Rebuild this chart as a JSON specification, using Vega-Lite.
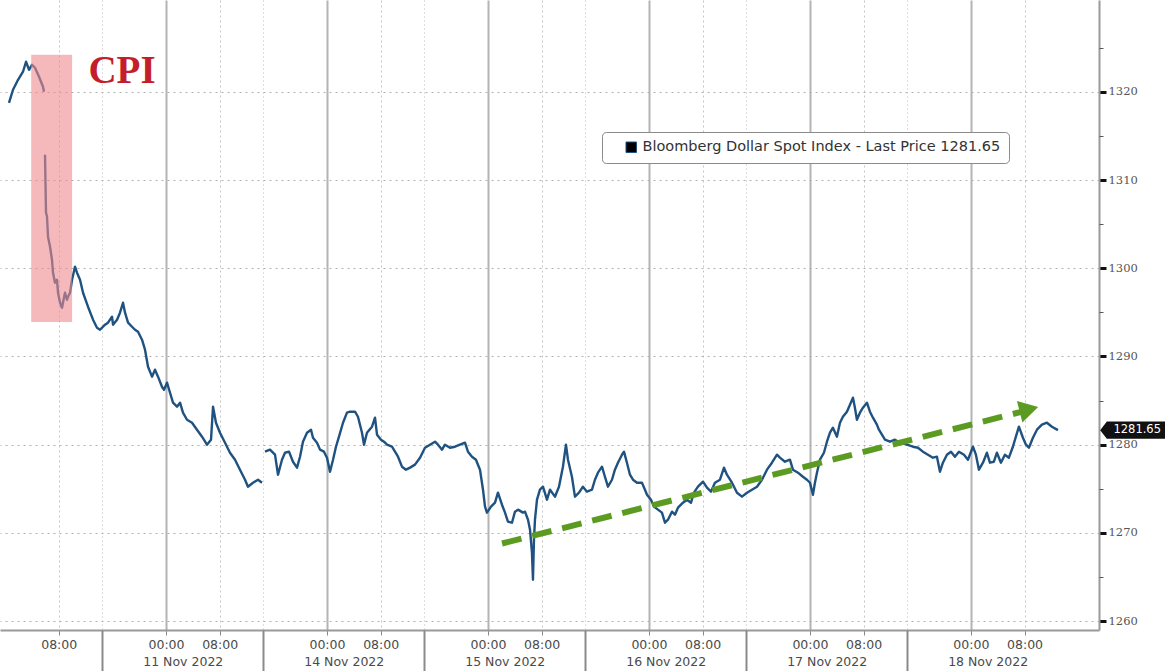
{
  "$schema": "https://vega.github.io/schema/vega-lite/v6.json",
  "width": 1099,
  "height": 630,
  "autosize": {"type": "none"},
  "padding": {"left": 0, "top": 0, "right": 66, "bottom": 41},
  "background": "white",
  "config": {"view": {"stroke": null}},
  "resolve": {"axis": {"x": "independent", "y": "independent"}},
  "datasets": {
    "price": [
      {"t":-23.41,"v":1318.75,"s":1},{"t":-22.81,"v":1320.23,"s":1},{"t":-22.06,"v":1321.36,"s":1},{"t":-21.32,"v":1322.27,"s":1},{"t":-20.87,"v":1323.40,"s":1},{"t":-20.42,"v":1322.49,"s":1},{"t":-19.98,"v":1323.06,"s":1},{"t":-19.53,"v":1322.72,"s":1},{"t":-18.93,"v":1321.70,"s":1},{"t":-18.34,"v":1320.57,"s":1},{"t":-18.19,"v":1320.00,"s":1},
      {"t":-18.04,"v":1312.86,"s":2},{"t":-17.89,"v":1306.29,"s":2},{"t":-17.74,"v":1305.84,"s":2},{"t":-17.59,"v":1303.57,"s":2},{"t":-17.29,"v":1302.44,"s":2},{"t":-17.00,"v":1300.96,"s":2},{"t":-16.85,"v":1299.49,"s":2},{"t":-16.55,"v":1298.36,"s":2},{"t":-16.25,"v":1298.70,"s":2},{"t":-16.10,"v":1297.22,"s":2},{"t":-15.80,"v":1296.09,"s":2},{"t":-15.50,"v":1295.52,"s":2},{"t":-15.36,"v":1296.09,"s":2},{"t":-15.06,"v":1297.22,"s":2},{"t":-14.76,"v":1296.43,"s":2},{"t":-14.61,"v":1296.77,"s":2},{"t":-14.31,"v":1297.22,"s":2},{"t":-14.01,"v":1298.70,"s":2},{"t":-13.57,"v":1300.17,"s":2},{"t":-13.27,"v":1299.49,"s":2},{"t":-12.82,"v":1298.70,"s":2},{"t":-12.37,"v":1297.22,"s":2},{"t":-11.63,"v":1295.64,"s":2},{"t":-10.88,"v":1294.17,"s":2},{"t":-10.29,"v":1293.26,"s":2},{"t":-9.84,"v":1293.03,"s":2},{"t":-9.09,"v":1293.60,"s":2},{"t":-8.65,"v":1293.83,"s":2},{"t":-8.05,"v":1294.50,"s":2},{"t":-7.90,"v":1293.60,"s":2},{"t":-7.30,"v":1294.17,"s":2},{"t":-6.86,"v":1294.96,"s":2},{"t":-6.41,"v":1296.09,"s":2},{"t":-6.11,"v":1294.96,"s":2},{"t":-5.66,"v":1293.83,"s":2},{"t":-5.07,"v":1293.37,"s":2},{"t":-4.62,"v":1293.03,"s":2},{"t":-4.17,"v":1292.81,"s":2},{"t":-3.58,"v":1291.90,"s":2},{"t":-3.13,"v":1290.77,"s":2},{"t":-2.68,"v":1288.84,"s":2},{"t":-2.09,"v":1287.71,"s":2},{"t":-1.64,"v":1288.50,"s":2},{"t":-1.19,"v":1287.71,"s":2},{"t":-0.60,"v":1286.57,"s":2},{"t":-0.30,"v":1286.23,"s":2},{"t":0.15,"v":1287.03,"s":2},{"t":0.60,"v":1285.89,"s":2},{"t":1.04,"v":1284.76,"s":2},{"t":1.64,"v":1284.31,"s":2},{"t":2.09,"v":1284.76,"s":2},{"t":2.53,"v":1283.63,"s":2},{"t":3.13,"v":1282.83,"s":2},{"t":3.88,"v":1282.49,"s":2},{"t":4.62,"v":1281.70,"s":2},{"t":5.37,"v":1280.91,"s":2},{"t":6.11,"v":1280.00,"s":2},{"t":6.71,"v":1280.57,"s":2},{"t":7.01,"v":1284.31,"s":2},{"t":7.45,"v":1282.49,"s":2},{"t":8.05,"v":1281.36,"s":2},{"t":8.80,"v":1280.23,"s":2},{"t":9.54,"v":1279.09,"s":2},{"t":10.29,"v":1278.30,"s":2},{"t":11.03,"v":1277.17,"s":2},{"t":11.78,"v":1276.03,"s":2},{"t":12.22,"v":1275.24,"s":2},{"t":12.97,"v":1275.69,"s":2},{"t":13.72,"v":1276.03,"s":2},{"t":14.31,"v":1275.69,"s":2},
      {"t":14.76,"v":1279.21,"s":3},{"t":15.50,"v":1279.44,"s":3},{"t":16.25,"v":1278.87,"s":3},{"t":16.70,"v":1276.60,"s":3},{"t":17.29,"v":1278.30,"s":3},{"t":17.74,"v":1279.09,"s":3},{"t":18.34,"v":1279.21,"s":3},{"t":18.93,"v":1278.07,"s":3},{"t":19.53,"v":1277.40,"s":3},{"t":19.98,"v":1278.64,"s":3},{"t":20.42,"v":1280.34,"s":3},{"t":21.02,"v":1281.36,"s":3},{"t":21.62,"v":1281.70,"s":3},{"t":21.91,"v":1280.79,"s":3},{"t":22.51,"v":1280.23,"s":3},{"t":22.96,"v":1279.44,"s":3},{"t":23.55,"v":1279.21,"s":3},{"t":24.00,"v":1278.53,"s":3},{"t":24.45,"v":1276.94,"s":3},{"t":24.90,"v":1278.30,"s":3},{"t":25.34,"v":1279.77,"s":3},{"t":25.79,"v":1280.91,"s":3},{"t":26.39,"v":1282.49,"s":3},{"t":26.98,"v":1283.63,"s":3},{"t":27.43,"v":1283.74,"s":3},{"t":28.18,"v":1283.74,"s":3},{"t":28.62,"v":1283.17,"s":3},{"t":29.22,"v":1281.36,"s":3},{"t":29.52,"v":1280.00,"s":3},{"t":29.96,"v":1281.36,"s":3},{"t":30.71,"v":1282.04,"s":3},{"t":31.16,"v":1283.06,"s":3},{"t":31.46,"v":1281.13,"s":3},{"t":32.05,"v":1280.57,"s":3},{"t":32.50,"v":1280.34,"s":3},{"t":32.95,"v":1280.00,"s":3},{"t":33.69,"v":1279.77,"s":3},{"t":34.14,"v":1279.21,"s":3},{"t":34.59,"v":1278.64,"s":3},{"t":35.18,"v":1277.51,"s":3},{"t":35.78,"v":1277.17,"s":3},{"t":36.38,"v":1277.40,"s":3},{"t":37.12,"v":1277.74,"s":3},{"t":37.87,"v":1278.53,"s":3},{"t":38.61,"v":1279.66,"s":3},{"t":39.36,"v":1280.00,"s":3},{"t":40.10,"v":1280.34,"s":3},{"t":40.55,"v":1280.00,"s":3},{"t":41.15,"v":1279.44,"s":3},{"t":41.59,"v":1280.00,"s":3},{"t":42.34,"v":1279.66,"s":3},{"t":43.08,"v":1279.77,"s":3},{"t":43.83,"v":1280.00,"s":3},{"t":44.57,"v":1280.23,"s":3},{"t":45.02,"v":1279.21,"s":3},{"t":45.62,"v":1278.64,"s":3},{"t":46.21,"v":1278.30,"s":3},{"t":46.81,"v":1277.17,"s":3},{"t":47.26,"v":1274.90,"s":3},{"t":47.56,"v":1272.98,"s":3},{"t":47.85,"v":1272.30,"s":3},{"t":48.45,"v":1272.98,"s":3},{"t":49.05,"v":1273.43,"s":3},{"t":49.49,"v":1274.56,"s":3},{"t":50.09,"v":1273.20,"s":3},{"t":50.54,"v":1272.30,"s":3},{"t":50.98,"v":1271.28,"s":3},{"t":51.58,"v":1271.16,"s":3},{"t":52.03,"v":1272.41,"s":3},{"t":52.48,"v":1272.64,"s":3},{"t":53.22,"v":1272.30,"s":3},{"t":53.52,"v":1272.41,"s":3},{"t":53.97,"v":1271.50,"s":3},{"t":54.27,"v":1270.37,"s":3},{"t":54.56,"v":1267.76,"s":3},{"t":54.71,"v":1264.70,"s":3},{"t":54.86,"v":1269.24,"s":3},{"t":55.01,"v":1271.50,"s":3},{"t":55.31,"v":1273.77,"s":3},{"t":55.75,"v":1274.90,"s":3},{"t":56.20,"v":1275.24,"s":3},{"t":56.80,"v":1273.77,"s":3},{"t":57.25,"v":1274.90,"s":3},{"t":57.99,"v":1274.11,"s":3},{"t":58.59,"v":1275.24,"s":3},{"t":59.18,"v":1277.51,"s":3},{"t":59.63,"v":1280.00,"s":3},{"t":59.93,"v":1278.30,"s":3},{"t":60.52,"v":1276.37,"s":3},{"t":60.97,"v":1274.11,"s":3},{"t":61.57,"v":1274.56,"s":3},{"t":62.16,"v":1275.24,"s":3},{"t":62.76,"v":1274.68,"s":3},{"t":63.51,"v":1274.90,"s":3},{"t":63.95,"v":1276.03,"s":3},{"t":64.40,"v":1276.83,"s":3},{"t":65.00,"v":1277.51,"s":3},{"t":65.44,"v":1276.37,"s":3},{"t":65.89,"v":1275.24,"s":3},{"t":66.49,"v":1276.03,"s":3},{"t":66.93,"v":1277.17,"s":3},{"t":67.38,"v":1277.96,"s":3},{"t":67.98,"v":1278.87,"s":3},{"t":68.28,"v":1279.21,"s":3},{"t":68.72,"v":1277.96,"s":3},{"t":69.17,"v":1276.60,"s":3},{"t":69.62,"v":1276.03,"s":3},{"t":70.22,"v":1275.69,"s":3},{"t":70.96,"v":1275.69,"s":3},{"t":71.41,"v":1274.90,"s":3},{"t":71.71,"v":1274.33,"s":3},{"t":72.30,"v":1273.77,"s":3},{"t":72.75,"v":1272.98,"s":3},{"t":73.35,"v":1272.64,"s":3},{"t":73.94,"v":1272.30,"s":3},{"t":74.39,"v":1271.16,"s":3},{"t":74.84,"v":1271.50,"s":3},{"t":75.43,"v":1272.41,"s":3},{"t":75.88,"v":1272.07,"s":3},{"t":76.33,"v":1272.86,"s":3},{"t":77.07,"v":1273.43,"s":3},{"t":77.67,"v":1273.77,"s":3},{"t":78.27,"v":1273.43,"s":3},{"t":78.71,"v":1274.56,"s":3},{"t":79.31,"v":1275.24,"s":3},{"t":80.06,"v":1275.81,"s":3},{"t":80.65,"v":1275.13,"s":3},{"t":81.25,"v":1274.68,"s":3},{"t":81.84,"v":1275.69,"s":3},{"t":82.59,"v":1276.03,"s":3},{"t":83.19,"v":1277.39,"s":3},{"t":83.63,"v":1276.60,"s":3},{"t":84.38,"v":1275.69,"s":3},{"t":85.13,"v":1274.56,"s":3},{"t":85.87,"v":1274.11,"s":3},{"t":86.62,"v":1274.56,"s":3},{"t":87.36,"v":1274.90,"s":3},{"t":88.11,"v":1275.24,"s":3},{"t":88.85,"v":1276.03,"s":3},{"t":89.60,"v":1277.17,"s":3},{"t":90.34,"v":1277.96,"s":3},{"t":91.09,"v":1278.87,"s":3},{"t":91.53,"v":1278.53,"s":3},{"t":92.28,"v":1278.07,"s":3},{"t":93.02,"v":1278.30,"s":3},{"t":93.47,"v":1277.17,"s":3},{"t":94.22,"v":1276.83,"s":3},{"t":94.96,"v":1276.37,"s":3},{"t":95.56,"v":1276.03,"s":3},{"t":96.01,"v":1275.69,"s":3},{"t":96.45,"v":1274.33,"s":3},{"t":96.75,"v":1275.69,"s":3},{"t":97.05,"v":1276.83,"s":3},{"t":97.50,"v":1278.30,"s":3},{"t":98.09,"v":1279.09,"s":3},{"t":98.54,"v":1280.34,"s":3},{"t":98.99,"v":1281.36,"s":3},{"t":99.43,"v":1281.93,"s":3},{"t":100.03,"v":1280.91,"s":3},{"t":100.48,"v":1282.49,"s":3},{"t":100.92,"v":1283.17,"s":3},{"t":101.52,"v":1283.74,"s":3},{"t":101.97,"v":1284.53,"s":3},{"t":102.42,"v":1285.33,"s":3},{"t":102.71,"v":1284.19,"s":3},{"t":103.01,"v":1282.83,"s":3},{"t":103.46,"v":1283.63,"s":3},{"t":103.91,"v":1284.19,"s":3},{"t":104.50,"v":1284.76,"s":3},{"t":104.95,"v":1283.74,"s":3},{"t":105.40,"v":1283.06,"s":3},{"t":105.99,"v":1282.27,"s":3},{"t":106.29,"v":1281.70,"s":3},{"t":106.74,"v":1281.13,"s":3},{"t":107.19,"v":1280.57,"s":3},{"t":107.93,"v":1280.34,"s":3},{"t":108.68,"v":1280.57,"s":3},{"t":109.42,"v":1280.23,"s":3},{"t":110.47,"v":1280.00,"s":3},{"t":111.36,"v":1279.77,"s":3},{"t":112.11,"v":1279.66,"s":3},{"t":112.85,"v":1279.21,"s":3},{"t":113.60,"v":1278.87,"s":3},{"t":114.34,"v":1278.53,"s":3},{"t":114.94,"v":1278.64,"s":3},{"t":115.39,"v":1276.94,"s":3},{"t":115.83,"v":1277.96,"s":3},{"t":116.43,"v":1278.87,"s":3},{"t":117.03,"v":1279.21,"s":3},{"t":117.62,"v":1278.64,"s":3},{"t":118.22,"v":1279.21,"s":3},{"t":118.97,"v":1278.87,"s":3},{"t":119.56,"v":1278.30,"s":3},{"t":120.31,"v":1279.77,"s":3},{"t":120.75,"v":1278.87,"s":3},{"t":121.20,"v":1277.17,"s":3},{"t":121.80,"v":1277.96,"s":3},{"t":122.39,"v":1279.09,"s":3},{"t":122.84,"v":1277.96,"s":3},{"t":123.43,"v":1278.07,"s":3},{"t":123.88,"v":1279.09,"s":3},{"t":124.48,"v":1277.96,"s":3},{"t":125.07,"v":1278.87,"s":3},{"t":125.67,"v":1278.53,"s":3},{"t":126.26,"v":1279.77,"s":3},{"t":126.71,"v":1280.91,"s":3},{"t":127.16,"v":1282.04,"s":3},{"t":127.76,"v":1280.79,"s":3},{"t":128.21,"v":1280.00,"s":3},{"t":128.65,"v":1279.66,"s":3},{"t":129.25,"v":1280.79,"s":3},{"t":129.85,"v":1281.70,"s":3},{"t":130.59,"v":1282.27,"s":3},{"t":131.34,"v":1282.49,"s":3},{"t":132.08,"v":1282.04,"s":3},{"t":132.98,"v":1281.65,"s":3}
    ],
    "cpiBox": [{"t": -20.1, "t2": -14.0, "v": 1324.2, "v2": 1293.9}],
    "cpiLabel": [{"t": -6.56, "v": 1321.0, "label": "CPI"}],
    "trend": [{"t": 50.1, "v": 1268.8}, {"t": 127.4, "v": 1283.7}],
    "trendHead": [{"t": 128.65, "v": 1284.0}],
    "lastTag": [{"t": 144.2, "v": 1281.65, "label": "1281.65"}]
  },
  "layer": [
    {
      "data": {"name": "price"},
      "mark": {"type": "line", "strokeWidth": 2.4, "interpolate": "linear", "strokeJoin": "round"},
      "encoding": {
        "x": {"field": "t", "type": "quantitative",
          "scale": {"domain": [-24.75, 139.1], "nice": false, "zero": false},
          "axis": {"orient": "bottom", "title": null,
            "values": [-16, 0, 8, 24, 32, 48, 56, 72, 80, 96, 104, 120, 128],
            "labelExpr": "datum.value % 24 == 0 ? '00:00' : '08:00'",
            "labelFont": "DejaVu Sans", "labelFontSize": 12.5, "labelColor": "#4a4a4a", "labelPadding": 3,
            "labelFlush": false, "labelOverlap": false,
            "grid": true,
            "gridColor": {"condition": {"test": "datum.value % 24 == 0", "value": "#b4b4b4"}, "value": "#c4c4c4"},
            "gridDash": {"condition": {"test": "datum.value % 24 == 0", "value": []}, "value": [2, 3]},
            "gridWidth": {"condition": {"test": "datum.value % 24 == 0", "value": 2}, "value": 1},
            "domain": true, "domainColor": "#999999", "domainWidth": 2,
            "ticks": true, "tickSize": 5, "tickColor": "#888888"}},
        "y": {"field": "v", "type": "quantitative",
          "scale": {"domain": [1259.0, 1330.4], "nice": false, "zero": false},
          "axis": {"orient": "right", "title": null, "format": "d",
            "values": [1260, 1270, 1280, 1290, 1300, 1310, 1320],
            "grid": true, "gridColor": "#b0b0b0", "gridDash": [2, 4], "gridWidth": 1,
            "domain": true, "domainColor": "#9a9a9a", "domainWidth": 2,
            "ticks": true, "tickColor": "#111111", "tickSize": 7, "tickWidth": 3,
            "labelFont": "DejaVu Serif", "labelFontSize": 11.5, "labelColor": "#555555", "labelPadding": 2}},
        "detail": {"field": "s", "type": "nominal"},
        "color": {"datum": "Bloomberg Dollar Spot Index - Last Price 1281.65",
          "scale": {"range": ["#1f5280"]},
          "legend": {"title": null, "orient": "none", "legendX": 602, "legendY": 132,
            "strokeColor": "#8a8a8a", "fillColor": "white", "cornerRadius": 4, "padding": 8,
            "symbolType": "square", "symbolSize": 110, "symbolOffset": 14,
            "symbolFillColor": "black", "symbolStrokeColor": "black",
            "labelFont": "DejaVu Sans", "labelFontSize": 14.5, "labelColor": "#333333", "labelLimit": 600,
            "encode": {"symbols": {"update": {"fill": {"value": "black"}, "stroke": {"value": "black"}, "strokeWidth": {"value": 1}, "opacity": {"value": 1}}}}}}
      }
    },
    {
      "data": {"name": "cpiBox"},
      "mark": {"type": "rect", "fill": "#ee8a90", "opacity": 0.6},
      "encoding": {
        "x": {"field": "t", "type": "quantitative",
          "scale": {"domain": [-24.75, 139.1], "nice": false, "zero": false},
          "axis": {"orient": "bottom", "title": null,
            "values": [2.5, 26.5, 50.5, 74.5, 98.5, 122.5],
            "labelExpr": "['11 Nov 2022','14 Nov 2022','15 Nov 2022','16 Nov 2022','17 Nov 2022','18 Nov 2022'][round((datum.value - 2.5) / 24)]",
            "labelFont": "DejaVu Sans", "labelFontSize": 12.5, "labelColor": "#4a4a4a",
            "labelPadding": 25, "labelFlush": false, "labelOverlap": false,
            "grid": false, "domain": false, "ticks": false, "tickSize": 0}},
        "x2": {"field": "t2"},
        "y": {"field": "v", "type": "quantitative",
          "scale": {"domain": [1259.0, 1330.4], "nice": false, "zero": false}, "axis": null},
        "y2": {"field": "v2"}
      }
    },
    {
      "data": {"name": "cpiLabel"},
      "mark": {"type": "text", "font": "Liberation Serif", "fontWeight": "bold", "fontSize": 39,
        "color": "#c41e2a", "align": "center", "baseline": "alphabetic"},
      "encoding": {
        "x": {"field": "t", "type": "quantitative",
          "scale": {"domain": [-24.75, 139.1], "nice": false, "zero": false}, "axis": null},
        "y": {"field": "v", "type": "quantitative",
          "scale": {"domain": [1259.0, 1330.4], "nice": false, "zero": false}, "axis": null},
        "text": {"field": "label"}
      }
    },
    {
      "data": {"name": "trend"},
      "mark": {"type": "line", "color": "#5c9b22", "strokeWidth": 6, "strokeDash": [20, 11], "strokeCap": "butt"},
      "encoding": {
        "x": {"field": "t", "type": "quantitative",
          "scale": {"domain": [-24.75, 139.1], "nice": false, "zero": false},
          "axis": {"orient": "bottom", "title": null,
            "values": [-9.5, 14.5, 38.5, 62.5, 86.5, 110.5],
            "labels": false, "domain": false,
            "grid": true, "gridColor": "#bdbdbd", "gridDash": [1, 3], "gridWidth": 1,
            "ticks": true, "tickSize": 41, "tickColor": "#8a8a8a", "tickWidth": 2}},
        "y": {"field": "v", "type": "quantitative",
          "scale": {"domain": [1259.0, 1330.4], "nice": false, "zero": false}, "axis": null}
      }
    },
    {
      "data": {"name": "trendHead"},
      "mark": {"type": "point", "shape": "triangle-right", "filled": true, "color": "#5c9b22", "opacity": 1, "size": 484, "angle": -14.3},
      "encoding": {
        "x": {"field": "t", "type": "quantitative",
          "scale": {"domain": [-24.75, 139.1], "nice": false, "zero": false}, "axis": null},
        "y": {"field": "v", "type": "quantitative",
          "scale": {"domain": [1259.0, 1330.4], "nice": false, "zero": false}, "axis": null}
      }
    },
    {
      "data": {"name": "lastTag"},
      "mark": {"type": "point", "shape": "M -1 0 L -0.8 -0.26 L 1 -0.26 L 1 0.26 L -0.8 0.26 Z", "filled": true, "color": "#111111", "opacity": 1, "size": 4356},
      "encoding": {
        "x": {"field": "t", "type": "quantitative",
          "scale": {"domain": [-24.75, 139.1], "nice": false, "zero": false}, "axis": null},
        "y": {"field": "v", "type": "quantitative",
          "scale": {"domain": [1259.0, 1330.4], "nice": false, "zero": false},
          "axis": {"orient": "right", "title": null,
            "values": [1265, 1275, 1285, 1295, 1305, 1315, 1325],
            "labels": false, "domain": false, "grid": false,
            "ticks": true, "tickSize": 4, "tickColor": "#555555", "tickWidth": 1}}
      }
    },
    {
      "data": {"name": "lastTag"},
      "mark": {"type": "text", "font": "DejaVu Sans", "fontSize": 11.5, "color": "white", "align": "center", "baseline": "middle", "dx": 4},
      "encoding": {
        "x": {"field": "t", "type": "quantitative",
          "scale": {"domain": [-24.75, 139.1], "nice": false, "zero": false}, "axis": null},
        "y": {"field": "v", "type": "quantitative",
          "scale": {"domain": [1259.0, 1330.4], "nice": false, "zero": false}, "axis": null},
        "text": {"field": "label"}
      }
    }
  ]
}
